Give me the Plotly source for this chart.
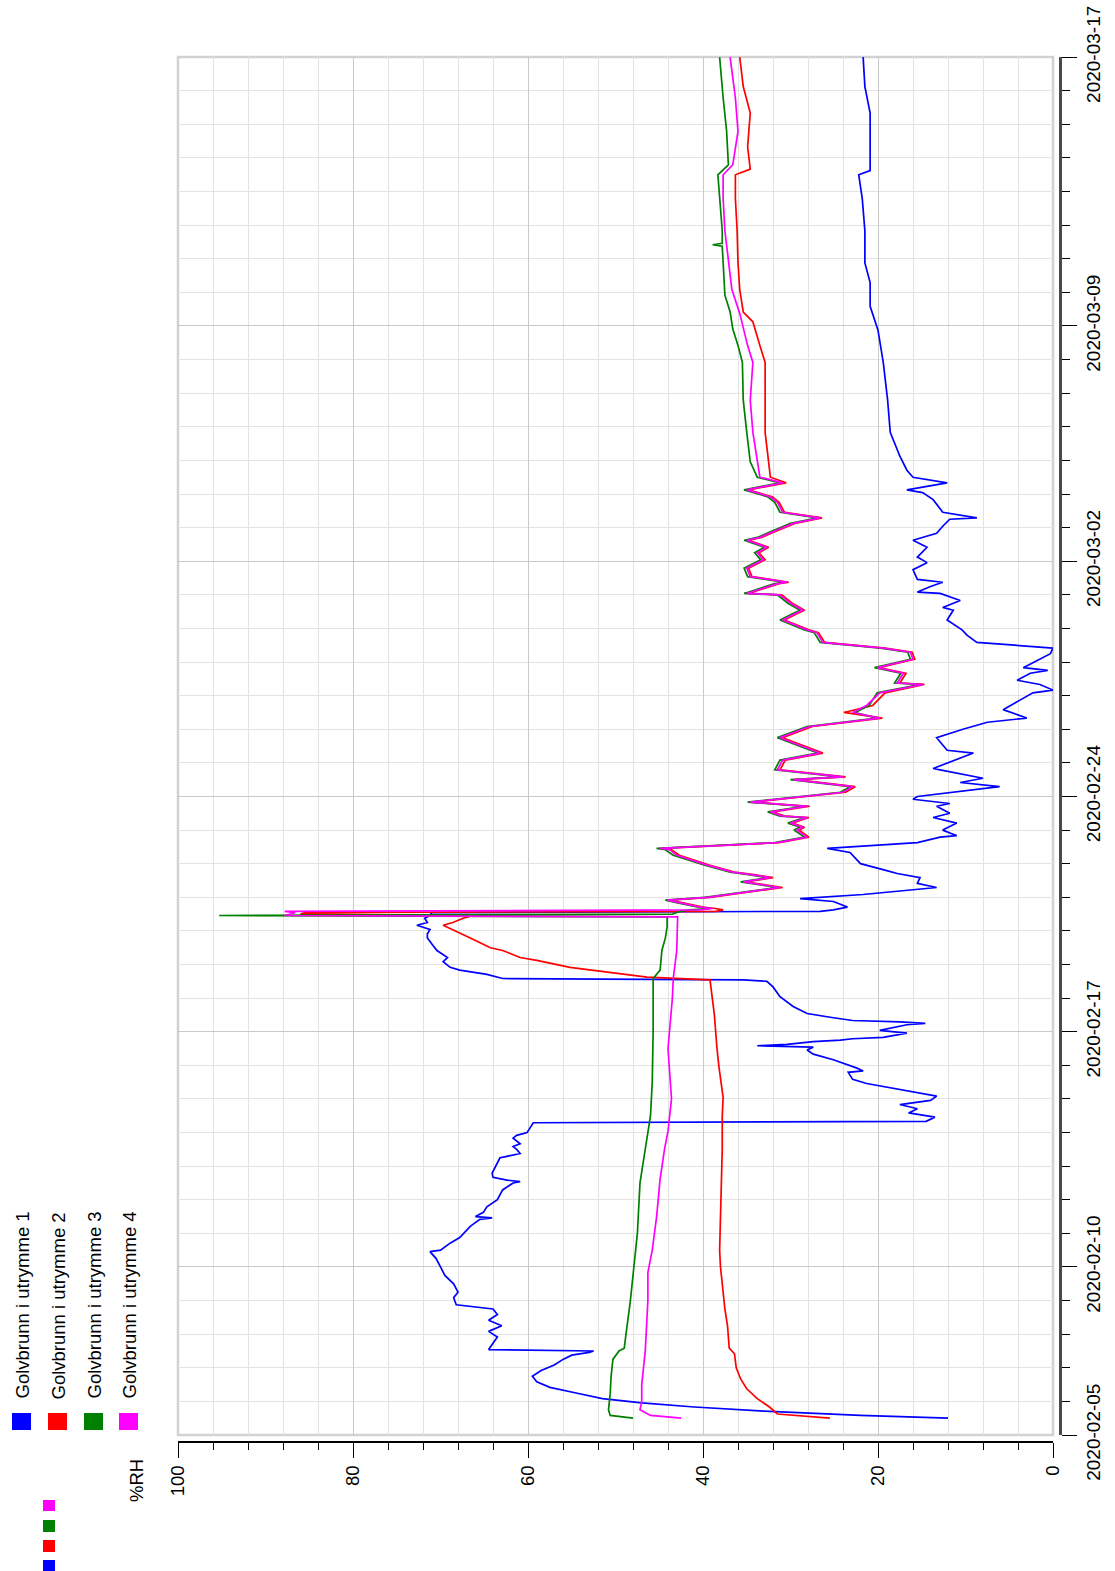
import plotly.graph_objects as go

# ---------------------------------------------------------------------------
# Relative humidity (%RH) logged in four floor drains, Feb-Mar 2020
# ---------------------------------------------------------------------------
series_names = [
    "Golvbrunn i utrymme 1",
    "Golvbrunn i utrymme 2",
    "Golvbrunn i utrymme 3",
    "Golvbrunn i utrymme 4",
]
series_colors = ["#0000ff", "#ff0000", "#008000", "#ff00ff"]

date_ticks = ["2020-02-05", "2020-02-10", "2020-02-17", "2020-02-24",
              "2020-03-02", "2020-03-09", "2020-03-17"]
rh_ticks = [0, 20, 40, 60, 80, 100]

# --- utrymme 1 -------------------------------------------------------------
t1 = [
    "2020-02-05 12:00", "2020-02-05 14:00", "2020-02-05 17:00", "2020-02-05 20:00",
    "2020-02-05 23:00", "2020-02-06 02:00", "2020-02-06 06:00", "2020-02-06 10:00",
    "2020-02-06 14:00", "2020-02-06 18:00", "2020-02-06 22:00", "2020-02-07 02:00",
    "2020-02-07 06:00", "2020-02-07 09:00", "2020-02-07 11:00", "2020-02-07 12:00",
    "2020-02-07 13:00", "2020-02-07 18:00", "2020-02-07 22:00", "2020-02-08 02:00",
    "2020-02-08 06:00", "2020-02-08 10:00", "2020-02-08 14:00", "2020-02-08 18:00",
    "2020-02-08 21:00", "2020-02-09 02:00", "2020-02-09 06:00", "2020-02-09 12:00",
    "2020-02-09 18:00", "2020-02-10 00:00", "2020-02-10 06:00", "2020-02-10 11:00",
    "2020-02-10 12:00", "2020-02-10 17:00", "2020-02-10 21:00", "2020-02-11 05:00",
    "2020-02-11 10:00", "2020-02-11 11:00", "2020-02-11 12:00", "2020-02-11 15:00",
    "2020-02-11 19:00", "2020-02-12 00:00", "2020-02-12 07:00", "2020-02-12 12:00",
    "2020-02-12 13:00", "2020-02-12 14:00", "2020-02-12 16:00", "2020-02-12 19:00",
    "2020-02-13 02:00", "2020-02-13 06:00", "2020-02-13 07:00", "2020-02-13 09:00",
    "2020-02-13 12:00", "2020-02-13 14:00", "2020-02-13 16:00", "2020-02-13 20:00",
    "2020-02-13 22:00", "2020-02-14 00:00", "2020-02-14 03:00", "2020-02-14 07:00",
    "2020-02-14 08:00", "2020-02-14 11:00", "2020-02-14 14:00", "2020-02-14 17:00",
    "2020-02-14 20:00", "2020-02-14 23:00", "2020-02-15 02:00", "2020-02-15 11:00",
    "2020-02-15 14:00", "2020-02-15 19:00", "2020-02-15 20:00", "2020-02-15 22:00",
    "2020-02-16 04:00", "2020-02-16 08:00", "2020-02-16 11:00", "2020-02-16 13:00",
    "2020-02-16 14:00", "2020-02-16 15:00", "2020-02-16 17:00", "2020-02-16 18:00",
    "2020-02-16 19:00", "2020-02-16 20:00", "2020-02-16 23:00", "2020-02-17 01:00",
    "2020-02-17 05:00", "2020-02-17 06:00", "2020-02-17 07:00", "2020-02-17 08:00",
    "2020-02-17 10:00", "2020-02-17 13:00", "2020-02-17 18:00", "2020-02-18 01:00",
    "2020-02-18 08:00", "2020-02-18 12:00", "2020-02-18 13:00", "2020-02-18 14:00",
    "2020-02-18 17:00", "2020-02-18 20:00", "2020-02-18 22:00", "2020-02-19 02:00",
    "2020-02-19 05:00", "2020-02-19 08:00", "2020-02-19 10:00", "2020-02-19 14:00",
    "2020-02-19 19:00", "2020-02-19 22:00", "2020-02-20 01:00", "2020-02-20 04:00",
    "2020-02-20 06:00", "2020-02-20 09:00", "2020-02-20 11:00", "2020-02-20 13:00",
    "2020-02-20 14:00", "2020-02-20 15:00", "2020-02-20 17:00", "2020-02-20 19:00",
    "2020-02-20 21:00", "2020-02-20 23:00", "2020-02-21 02:00", "2020-02-21 07:00",
    "2020-02-21 10:00", "2020-02-21 14:00", "2020-02-21 17:00", "2020-02-21 19:00",
    "2020-02-22 00:00", "2020-02-22 08:00", "2020-02-22 11:00", "2020-02-22 15:00",
    "2020-02-22 19:00", "2020-02-22 20:00", "2020-02-23 00:00", "2020-02-23 05:00",
    "2020-02-23 09:00", "2020-02-23 12:00", "2020-02-23 17:00", "2020-02-23 19:00",
    "2020-02-23 22:00", "2020-02-24 00:00", "2020-02-24 07:00", "2020-02-24 10:00",
    "2020-02-24 13:00", "2020-02-24 19:00", "2020-02-24 20:00", "2020-02-25 07:00",
    "2020-02-25 09:00", "2020-02-25 18:00", "2020-02-26 00:00", "2020-02-26 05:00",
    "2020-02-26 08:00", "2020-02-26 14:00", "2020-02-27 02:00", "2020-02-27 04:00",
    "2020-02-27 08:00", "2020-02-27 11:00", "2020-02-27 16:00", "2020-02-27 18:00",
    "2020-02-27 20:00", "2020-02-28 06:00", "2020-02-28 10:00", "2020-02-28 14:00",
    "2020-02-28 19:00", "2020-02-28 23:00", "2020-02-29 06:00", "2020-02-29 13:00",
    "2020-02-29 15:00", "2020-02-29 20:00", "2020-03-01 01:00", "2020-03-01 02:00",
    "2020-03-01 06:00", "2020-03-01 09:00", "2020-03-01 11:00", "2020-03-01 18:00",
    "2020-03-01 23:00", "2020-03-02 03:00", "2020-03-02 10:00", "2020-03-02 15:00",
    "2020-03-02 20:00", "2020-03-03 01:00", "2020-03-03 06:00", "2020-03-03 07:00",
    "2020-03-03 11:00", "2020-03-03 20:00", "2020-03-04 01:00", "2020-03-04 03:00",
    "2020-03-04 08:00", "2020-03-04 12:00", "2020-03-04 17:00", "2020-03-05 03:00",
    "2020-03-05 20:00", "2020-03-06 19:00", "2020-03-07 22:00", "2020-03-08 21:00",
    "2020-03-09 14:00", "2020-03-10 07:00", "2020-03-10 21:00", "2020-03-11 20:00",
    "2020-03-12 19:00", "2020-03-13 12:00", "2020-03-13 15:00", "2020-03-14 08:00",
    "2020-03-15 08:00", "2020-03-16 03:00", "2020-03-17 00:00",
]
rh1 = [
    12.0, 22.0, 33.0, 41.0, 47.0, 51.5, 54.5, 57.5, 59.0, 59.5, 58.5, 57.0,
    56.0, 55.0, 53.0, 52.5, 64.5, 64.0, 63.5, 64.5, 63.0, 64.5, 63.5, 64.0,
    68.2, 68.5, 68.0, 68.5, 69.5, 70.0, 70.5, 71.2, 70.0, 68.9, 67.8, 66.6,
    65.5, 64.1, 66.0, 65.1, 64.7, 63.5, 62.9, 61.7, 60.9, 62.4, 64.0, 64.1,
    63.5, 63.2, 62.4, 60.9, 61.3, 61.7, 60.9, 61.7, 61.3, 60.1, 59.8, 59.4,
    14.5, 13.5, 16.5, 15.5, 17.5, 14.0, 13.3, 21.3, 22.9, 23.4, 21.7, 22.4,
    25.1, 27.4, 28.1, 27.4, 33.8, 30.4, 27.4, 24.3, 22.9, 19.4, 16.7, 19.8,
    16.7, 14.6, 17.5, 22.9, 25.1, 28.1, 29.7, 31.2, 32.0, 32.7, 35.4, 62.9,
    64.7, 67.8, 68.9, 69.7, 69.2, 70.0, 70.4, 70.9, 71.5, 71.5, 71.2, 72.7,
    71.5, 71.8, 71.2, 71.0, 26.6, 25.1, 23.5, 24.3, 25.1, 28.9, 21.7, 13.3,
    15.5, 15.2, 17.8, 19.0, 22.0, 23.2, 25.8, 15.5, 12.9, 11.0, 12.6, 11.0,
    13.7, 11.8, 13.3, 11.8, 16.0, 15.5, 6.1, 10.6, 8.0, 12.9, 13.7, 9.1,
    12.1, 13.3, 10.3, 7.5, 3.0, 5.7, 2.3, 0.0, 1.5, 4.1, 2.6, 0.6,
    3.4, 0.3, 0.0, 8.7, 9.8, 10.4, 12.1, 11.4, 12.6, 10.6, 12.9, 15.5,
    14.0, 12.6, 15.5, 16.0, 14.4, 15.5, 14.4, 16.0, 13.3, 12.6, 11.8, 8.7,
    12.6, 13.7, 14.9, 16.7, 12.1, 16.0, 16.7, 17.5, 18.6, 18.9, 19.4, 20.0,
    20.9, 20.9, 21.5, 21.5, 21.8, 22.2, 20.9, 20.9, 20.9, 21.5, 21.7,
]

# --- utrymme 2 -------------------------------------------------------------
t2 = [
    "2020-02-05 12:00", "2020-02-05 15:00", "2020-02-05 20:00", "2020-02-06 02:00",
    "2020-02-06 09:00", "2020-02-06 16:00", "2020-02-07 00:00", "2020-02-07 10:00",
    "2020-02-07 14:00", "2020-02-08 06:00", "2020-02-08 18:00", "2020-02-09 12:00",
    "2020-02-10 00:00", "2020-02-10 12:00", "2020-02-11 12:00", "2020-02-12 12:00",
    "2020-02-13 12:00", "2020-02-14 12:00", "2020-02-15 01:00", "2020-02-16 00:00",
    "2020-02-16 12:00", "2020-02-17 12:00", "2020-02-18 00:00", "2020-02-18 13:00",
    "2020-02-18 15:00", "2020-02-18 19:00", "2020-02-18 22:00", "2020-02-19 03:00",
    "2020-02-19 05:00", "2020-02-19 10:00", "2020-02-19 12:00", "2020-02-19 19:00",
    "2020-02-20 01:00", "2020-02-20 04:00", "2020-02-20 06:00", "2020-02-20 09:00",
    "2020-02-20 11:00", "2020-02-20 12:00", "2020-02-20 13:00", "2020-02-20 14:00",
    "2020-02-20 15:00", "2020-02-20 16:00", "2020-02-20 17:00", "2020-02-20 20:00",
    "2020-02-20 22:00", "2020-02-21 00:00", "2020-02-21 07:00", "2020-02-21 11:00",
    "2020-02-21 14:00", "2020-02-21 16:00", "2020-02-21 18:00", "2020-02-21 23:00",
    "2020-02-22 03:00", "2020-02-22 06:00", "2020-02-22 10:00", "2020-02-22 11:00",
    "2020-02-22 15:00", "2020-02-22 19:00", "2020-02-23 00:00", "2020-02-23 02:00",
    "2020-02-23 05:00", "2020-02-23 09:00", "2020-02-23 10:00", "2020-02-23 13:00",
    "2020-02-23 17:00", "2020-02-23 20:00", "2020-02-24 03:00", "2020-02-24 07:00",
    "2020-02-24 12:00", "2020-02-24 14:00", "2020-02-24 19:00", "2020-02-25 02:00",
    "2020-02-25 07:00", "2020-02-25 18:00", "2020-02-26 02:00", "2020-02-26 08:00",
    "2020-02-26 12:00", "2020-02-26 17:00", "2020-02-27 02:00", "2020-02-27 08:00",
    "2020-02-27 09:00", "2020-02-27 16:00", "2020-02-27 20:00", "2020-02-28 02:00",
    "2020-02-28 07:00", "2020-02-28 10:00", "2020-02-28 14:00", "2020-02-28 21:00",
    "2020-02-28 23:00", "2020-02-29 04:00", "2020-02-29 06:00", "2020-02-29 11:00",
    "2020-02-29 13:00", "2020-02-29 18:00", "2020-03-01 00:00", "2020-03-01 01:00",
    "2020-03-01 08:00", "2020-03-01 09:00", "2020-03-01 13:00", "2020-03-01 19:00",
    "2020-03-02 01:00", "2020-03-02 06:00", "2020-03-02 10:00", "2020-03-02 15:00",
    "2020-03-02 17:00", "2020-03-02 21:00", "2020-03-03 03:00", "2020-03-03 07:00",
    "2020-03-03 11:00", "2020-03-03 18:00", "2020-03-03 22:00", "2020-03-04 03:00",
    "2020-03-04 08:00", "2020-03-04 12:00", "2020-03-05 20:00", "2020-03-06 19:00",
    "2020-03-07 22:00", "2020-03-08 10:00", "2020-03-09 03:00", "2020-03-09 10:00",
    "2020-03-10 02:00", "2020-03-10 21:00", "2020-03-11 20:00", "2020-03-12 19:00",
    "2020-03-13 12:00", "2020-03-13 16:00", "2020-03-14 08:00", "2020-03-15 08:00",
    "2020-03-16 03:00", "2020-03-17 00:00",
]
rh2 = [
    25.5, 31.5, 32.4, 33.8, 35.0, 35.7, 36.2, 36.4, 37.0, 37.2, 37.5, 37.8,
    38.0, 38.1, 38.0, 37.9, 37.8, 37.8, 37.7, 38.2, 38.4, 38.7, 38.9, 39.2,
    46.4, 51.4, 55.2, 59.0, 60.9, 62.9, 64.3, 66.6, 68.6, 69.7, 68.6, 67.4,
    66.3, 86.0, 85.5, 38.5, 37.7, 38.6, 40.0, 42.4, 43.8, 39.2, 30.9, 35.2,
    32.0, 34.0, 36.4, 39.3, 41.3, 42.7, 43.6, 44.6, 31.3, 27.9, 29.0, 28.4,
    29.8, 27.9, 30.7, 32.0, 27.8, 34.4, 23.7, 22.6, 29.4, 23.7, 31.2, 30.6,
    26.3, 30.9, 27.5, 19.5, 23.9, 20.6, 19.2, 14.7, 17.5, 16.8, 19.9, 15.8,
    16.1, 19.2, 26.1, 26.8, 27.9, 29.8, 30.7, 29.1, 28.4, 29.8, 31.0, 34.8,
    31.3, 30.2, 34.4, 34.8, 32.9, 33.6, 32.5, 34.8, 33.3, 31.8, 29.5, 26.4,
    30.7, 31.3, 32.1, 34.8, 30.5, 32.3, 32.9, 32.9, 32.9, 33.5, 34.3, 35.4,
    35.8, 36.0, 36.1, 36.3, 36.3, 34.6, 34.9, 34.6, 35.4, 35.8,
]

# --- utrymme 3 -------------------------------------------------------------
t3 = [
    "2020-02-05 12:00", "2020-02-05 14:00", "2020-02-05 18:00", "2020-02-06 06:00",
    "2020-02-06 18:00", "2020-02-07 06:00", "2020-02-07 12:00", "2020-02-07 14:00",
    "2020-02-08 00:00", "2020-02-09 00:00", "2020-02-10 00:00", "2020-02-11 00:00",
    "2020-02-12 12:00", "2020-02-13 12:00", "2020-02-14 12:00", "2020-02-15 12:00",
    "2020-02-17 00:00", "2020-02-18 14:00", "2020-02-18 20:00", "2020-02-19 10:00",
    "2020-02-19 19:00", "2020-02-20 03:00", "2020-02-20 10:00", "2020-02-20 11:00",
    "2020-02-20 12:00", "2020-02-20 14:00", "2020-02-20 15:00", "2020-02-20 16:00",
    "2020-02-20 17:00", "2020-02-20 20:00", "2020-02-20 22:00", "2020-02-21 00:00",
    "2020-02-21 07:00", "2020-02-21 11:00", "2020-02-21 14:00", "2020-02-21 16:00",
    "2020-02-21 18:00", "2020-02-21 23:00", "2020-02-22 03:00", "2020-02-22 06:00",
    "2020-02-22 10:00", "2020-02-22 11:00", "2020-02-22 15:00", "2020-02-22 19:00",
    "2020-02-23 00:00", "2020-02-23 02:00", "2020-02-23 05:00", "2020-02-23 09:00",
    "2020-02-23 10:00", "2020-02-23 13:00", "2020-02-23 17:00", "2020-02-23 20:00",
    "2020-02-24 03:00", "2020-02-24 07:00", "2020-02-24 12:00", "2020-02-24 14:00",
    "2020-02-24 19:00", "2020-02-25 02:00", "2020-02-25 07:00", "2020-02-25 18:00",
    "2020-02-26 02:00", "2020-02-26 08:00", "2020-02-26 12:00", "2020-02-26 17:00",
    "2020-02-27 02:00", "2020-02-27 08:00", "2020-02-27 09:00", "2020-02-27 16:00",
    "2020-02-27 20:00", "2020-02-28 02:00", "2020-02-28 07:00", "2020-02-28 10:00",
    "2020-02-28 14:00", "2020-02-28 21:00", "2020-02-28 23:00", "2020-02-29 04:00",
    "2020-02-29 06:00", "2020-02-29 11:00", "2020-02-29 13:00", "2020-02-29 18:00",
    "2020-03-01 00:00", "2020-03-01 01:00", "2020-03-01 08:00", "2020-03-01 09:00",
    "2020-03-01 13:00", "2020-03-01 19:00", "2020-03-02 01:00", "2020-03-02 06:00",
    "2020-03-02 10:00", "2020-03-02 15:00", "2020-03-02 17:00", "2020-03-02 21:00",
    "2020-03-03 03:00", "2020-03-03 07:00", "2020-03-03 11:00", "2020-03-03 18:00",
    "2020-03-03 22:00", "2020-03-04 03:00", "2020-03-04 08:00", "2020-03-04 12:00",
    "2020-03-04 23:00", "2020-03-05 20:00", "2020-03-06 19:00", "2020-03-07 22:00",
    "2020-03-08 10:00", "2020-03-08 22:00", "2020-03-09 10:00", "2020-03-09 22:00",
    "2020-03-10 21:00", "2020-03-11 09:00", "2020-03-11 10:00", "2020-03-11 11:00",
    "2020-03-11 20:00", "2020-03-12 19:00", "2020-03-13 12:00", "2020-03-13 19:00",
    "2020-03-14 19:00", "2020-03-15 19:00", "2020-03-17 00:00",
]
rh3 = [
    48.0, 50.6, 50.8, 50.6, 50.5, 50.3, 49.6, 49.0, 48.8, 48.3, 47.9, 47.5,
    47.2, 46.6, 46.0, 45.8, 45.7, 45.7, 44.9, 44.7, 44.3, 44.1, 44.1, 95.3,
    43.5, 42.6, 41.5, 39.1, 40.5, 42.9, 44.3, 39.8, 31.5, 35.7, 32.6, 34.6,
    36.9, 39.8, 41.9, 43.4, 44.3, 45.3, 31.8, 28.4, 29.6, 28.9, 30.3, 28.4,
    31.2, 32.6, 28.4, 34.9, 24.3, 23.2, 30.0, 24.3, 31.8, 31.2, 26.9, 31.5,
    28.1, 20.1, 22.6, 21.0, 20.1, 15.2, 18.1, 17.4, 20.4, 16.3, 16.6, 19.7,
    26.6, 27.3, 28.4, 30.3, 31.2, 29.6, 28.9, 30.3, 31.5, 35.3, 31.8, 30.7,
    34.9, 35.3, 33.4, 34.1, 33.0, 35.3, 33.8, 32.3, 30.0, 26.9, 31.2, 31.8,
    32.6, 35.3, 31.2, 33.8, 34.6, 35.0, 35.4, 35.5, 36.0, 36.6, 36.9, 37.5,
    37.7, 37.8, 38.9, 37.8, 37.8, 38.1, 38.3, 37.1, 37.3, 37.7, 38.1,
]

# --- utrymme 4 -------------------------------------------------------------
t4 = [
    "2020-02-05 12:00", "2020-02-05 14:00", "2020-02-05 18:00", "2020-02-06 00:00",
    "2020-02-06 12:00", "2020-02-07 00:00", "2020-02-07 12:00", "2020-02-08 00:00",
    "2020-02-08 12:00", "2020-02-09 00:00", "2020-02-09 20:00", "2020-02-10 12:00",
    "2020-02-11 12:00", "2020-02-12 15:00", "2020-02-13 12:00", "2020-02-14 01:00",
    "2020-02-15 00:00", "2020-02-16 12:00", "2020-02-18 00:00", "2020-02-18 14:00",
    "2020-02-19 10:00", "2020-02-20 10:00", "2020-02-20 11:00", "2020-02-20 12:00",
    "2020-02-20 13:00", "2020-02-20 14:00", "2020-02-20 15:00", "2020-02-20 16:00",
    "2020-02-20 17:00", "2020-02-20 20:00", "2020-02-20 22:00", "2020-02-21 00:00",
    "2020-02-21 07:00", "2020-02-21 11:00", "2020-02-21 14:00", "2020-02-21 16:00",
    "2020-02-21 18:00", "2020-02-21 23:00", "2020-02-22 03:00", "2020-02-22 06:00",
    "2020-02-22 10:00", "2020-02-22 11:00", "2020-02-22 15:00", "2020-02-22 19:00",
    "2020-02-23 00:00", "2020-02-23 02:00", "2020-02-23 05:00", "2020-02-23 09:00",
    "2020-02-23 10:00", "2020-02-23 13:00", "2020-02-23 17:00", "2020-02-23 20:00",
    "2020-02-24 03:00", "2020-02-24 07:00", "2020-02-24 12:00", "2020-02-24 14:00",
    "2020-02-24 19:00", "2020-02-25 02:00", "2020-02-25 07:00", "2020-02-25 18:00",
    "2020-02-26 02:00", "2020-02-26 08:00", "2020-02-26 12:00", "2020-02-26 17:00",
    "2020-02-27 02:00", "2020-02-27 08:00", "2020-02-27 09:00", "2020-02-27 16:00",
    "2020-02-27 20:00", "2020-02-28 02:00", "2020-02-28 07:00", "2020-02-28 10:00",
    "2020-02-28 14:00", "2020-02-28 21:00", "2020-02-28 23:00", "2020-02-29 04:00",
    "2020-02-29 06:00", "2020-02-29 11:00", "2020-02-29 13:00", "2020-02-29 18:00",
    "2020-03-01 00:00", "2020-03-01 01:00", "2020-03-01 08:00", "2020-03-01 09:00",
    "2020-03-01 13:00", "2020-03-01 19:00", "2020-03-02 01:00", "2020-03-02 06:00",
    "2020-03-02 10:00", "2020-03-02 15:00", "2020-03-02 17:00", "2020-03-02 21:00",
    "2020-03-03 03:00", "2020-03-03 07:00", "2020-03-03 11:00", "2020-03-03 18:00",
    "2020-03-03 22:00", "2020-03-04 03:00", "2020-03-04 08:00", "2020-03-04 12:00",
    "2020-03-05 20:00", "2020-03-06 19:00", "2020-03-07 22:00", "2020-03-08 10:00",
    "2020-03-09 09:00", "2020-03-10 02:00", "2020-03-10 21:00", "2020-03-11 20:00",
    "2020-03-12 19:00", "2020-03-13 12:00", "2020-03-13 19:00", "2020-03-14 19:00",
    "2020-03-15 19:00", "2020-03-17 00:00",
]
rh4 = [
    42.5, 46.0, 47.2, 47.0, 47.0, 46.8, 46.6, 46.5, 46.4, 46.3, 46.3, 45.8,
    45.3, 44.9, 44.4, 44.0, 43.6, 44.0, 43.5, 43.4, 43.0, 42.9, 87.8, 87.0,
    86.6, 87.8, 40.3, 38.9, 40.3, 42.6, 44.1, 39.5, 31.2, 35.4, 32.3, 34.3,
    36.6, 39.5, 41.5, 43.0, 43.8, 44.9, 31.5, 28.1, 29.3, 28.6, 30.0, 28.1,
    30.9, 32.3, 28.1, 34.6, 24.0, 22.9, 29.7, 24.0, 31.5, 30.9, 26.6, 31.2,
    27.8, 19.8, 22.9, 21.3, 19.8, 14.9, 17.8, 17.1, 20.1, 16.0, 16.3, 19.4,
    26.3, 27.0, 28.1, 30.0, 30.9, 29.3, 28.6, 30.0, 31.2, 35.0, 31.5, 30.4,
    34.6, 35.0, 33.1, 33.8, 32.7, 35.0, 33.5, 32.0, 29.7, 26.6, 30.9, 31.5,
    32.3, 35.0, 30.9, 33.5, 34.3, 34.6, 34.3, 34.9, 35.8, 36.7, 37.1, 37.5,
    37.7, 37.7, 36.6, 36.0, 36.3, 36.9,
]

series_times = [t1, t2, t3, t4]
series_values = [rh1, rh2, rh3, rh4]

# ---------------------------------------------------------------------------
# Page geometry (pixels); the chart is laid out turned a quarter turn,
# with time running upwards and %RH decreasing to the right.
# ---------------------------------------------------------------------------
W, H = 1115, 1571
PX_L, PX_R = 178, 1060      # plotting region (the date axis sits at PX_R)
PY_T, PY_B = 57, 1442       # plotting region (the %RH axis sits at PY_B)
FRAME_R, FRAME_B = 1053, 1435

def px(x):
    return (x - PX_L) / (PX_R - PX_L)

def py(y):
    return (PY_B - y) / (PY_B - PY_T)

FONT = "Liberation Sans, Arial, sans-serif"

fig = go.Figure()
for name, color, t, v in zip(series_names, series_colors, series_times, series_values):
    fig.add_trace(go.Scatter(
        x=v, y=t, mode="lines", name=name,
        line=dict(color=color, width=1.7),
        showlegend=False,
    ))

fig.update_layout(
    width=W, height=H,
    margin=dict(l=PX_L, r=W - PX_R, t=PY_T, b=H - PY_B, pad=0, autoexpand=False),
    paper_bgcolor="white", plot_bgcolor="white",
    font=dict(family=FONT, size=19, color="black"),
    xaxis=dict(
        domain=[0, px(FRAME_R)], anchor="free", position=0,
        range=[100, 0], tickmode="array", tickvals=rh_ticks,
        ticktext=[str(v) for v in rh_ticks], tickangle=-90,
        ticks="outside", ticklen=15, tickwidth=1.3, tickcolor="black",
        showline=True, linecolor="black", linewidth=2,
        showgrid=True, gridcolor="#c9c9c9", gridwidth=1.3,
        zeroline=False, ticklabeloverflow="allow", automargin=False,
        minor=dict(dtick=4, tick0=0, ticks="outside", ticklen=7, tickwidth=1.3,
                   tickcolor="black", showgrid=True, gridcolor="#e3e3e3", gridwidth=1.3),
        tickfont=dict(family=FONT, size=18.5),
    ),
    yaxis=dict(
        domain=[py(FRAME_B), 1], anchor="free", position=1, side="right",
        type="date", range=["2020-02-05 00:00", "2020-03-17 00:06"],
        tickmode="array", tickvals=date_ticks, ticktext=date_ticks,
        tickangle=-90,
        ticks="outside", ticklen=15, tickwidth=1.3, tickcolor="black",
        showline=True, linecolor="#4a4a4a", linewidth=3,
        showgrid=True, gridcolor="#c9c9c9", gridwidth=1.3,
        zeroline=False, ticklabeloverflow="allow", automargin=False,
        minor=dict(dtick=86400000, tick0="2020-02-05", ticks="outside", ticklen=8,
                   tickwidth=1.3, tickcolor="black", showgrid=True,
                   gridcolor="#e3e3e3", gridwidth=1.3),
        tickfont=dict(family=FONT, size=19),
    ),
)

# light frame around the data area
fig.add_shape(type="rect", xref="x domain", yref="y domain", x0=0, x1=1, y0=0, y1=1,
              line=dict(color="#d2d2d2", width=2.5), layer="below")

# legend drawn sideways in the lower-left corner
legend_cols = [22, 58, 94, 129]
for name, color, cx in zip(series_names, series_colors, legend_cols):
    fig.add_annotation(
        x=px(cx), y=py(1401), xref="paper", yref="paper",
        text=name, textangle=-90, showarrow=False,
        xanchor="center", yanchor="bottom",
        font=dict(family=FONT, size=18.5, color="black"),
    )
    fig.add_shape(type="rect", xref="paper", yref="paper",
                  x0=px(cx - 10), x1=px(cx + 9), y0=py(1430), y1=py(1413),
                  fillcolor=color, line=dict(width=0))

# small colour key below the legend
key_rows = [(1500, 1511), (1520, 1532), (1540, 1552), (1560, 1571)]
for color, (y0, y1) in zip(["#ff00ff", "#008000", "#ff0000", "#0000ff"], key_rows):
    fig.add_shape(type="rect", xref="paper", yref="paper",
                  x0=px(43), x1=px(55), y0=py(y1), y1=py(y0),
                  fillcolor=color, line=dict(width=0))

# unit label
fig.add_annotation(
    x=px(136), y=py(1481), xref="paper", yref="paper",
    text="%RH", textangle=-90, showarrow=False,
    xanchor="center", yanchor="middle",
    font=dict(family=FONT, size=18.5, color="black"),
)

fig.write_html("out.html")
